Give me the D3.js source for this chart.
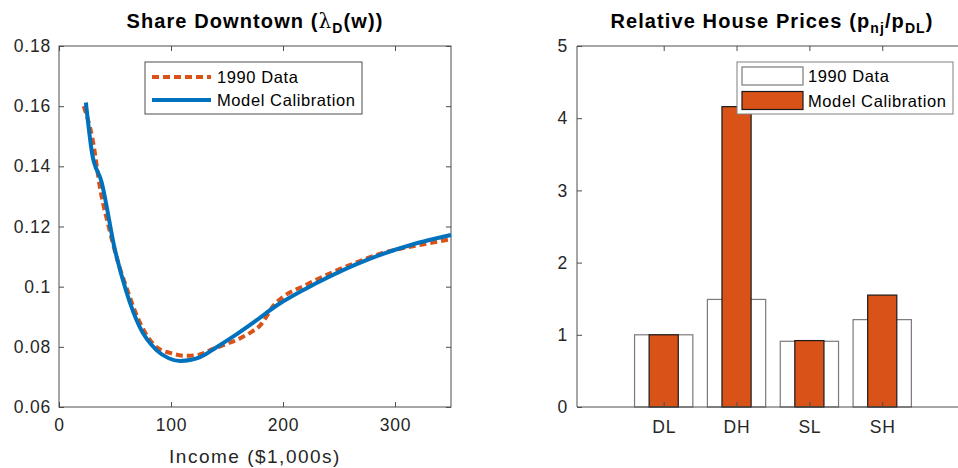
<!DOCTYPE html>
<html><head><meta charset="utf-8">
<script src="https://cdn.jsdelivr.net/npm/d3@7"></script>
<style>body{margin:0;background:#fff;} svg{display:block;font-family:"Liberation Sans",Arial,sans-serif;}</style>
</head><body>
<svg id="c" width="958" height="468"></svg>
<script>
// ---- Data: Share Downtown ----
const modelIncome = [24, 29.5, 38, 50, 60, 72, 87, 98, 108, 118, 126, 140, 155, 175, 195, 230, 275, 320, 350];
const modelShare  = [0.1612, 0.1444, 0.1348, 0.1122, 0.0985, 0.0866, 0.0789, 0.0762, 0.0753, 0.0757, 0.0766, 0.0797, 0.0833, 0.0885, 0.0939, 0.1012, 0.1089, 0.1145, 0.1172];
const dataIncome  = [22, 30, 37, 45, 52, 61, 70, 87, 99, 114, 125, 135, 150, 162, 172, 180, 186, 191, 200, 220, 245, 265, 289, 320, 350];
const dataShare   = [0.1600, 0.1490, 0.1320, 0.1190, 0.1090, 0.0989, 0.0899, 0.0799, 0.0780, 0.0770, 0.0774, 0.0789, 0.0810, 0.0829, 0.0850, 0.0873, 0.0905, 0.0935, 0.0966, 0.1005, 0.1049, 0.1080, 0.1112, 0.1137, 0.1158];
const leftXTicks = [0, 100, 200, 300];
const leftYTicks = [0.06, 0.08, 0.1, 0.12, 0.14, 0.16, 0.18];

// ---- Data: Relative house prices ----
const categories = ["DL", "DH", "SL", "SH"];
const priceData  = [1.0, 1.49, 0.91, 1.21];
const priceModel = [1.0, 4.16, 0.92, 1.55];
const rightYTicks = [0, 1, 2, 3, 4, 5];
const seriesNames = ["1990 Data", "Model Calibration"];

const BLUE = "#0072BD", ORANGE = "#D95319", AX = "#4d4d4d", TXT = "#262626";
const TICKFS = 17.5, TICKLS = 0.8;
const svg = d3.select("#c");

function styleTicks(a) {
  a.select(".domain").remove();
  a.selectAll("line").attr("stroke", AX);
  a.selectAll("text").attr("font-size", TICKFS).attr("letter-spacing", TICKLS)
    .attr("fill", TXT).attr("font-family", "Liberation Sans, Arial");
}
function plainTicks(a) { a.select(".domain").remove(); a.selectAll("line").attr("stroke", AX); }

// ---------- Left panel ----------
const L = {l: 59, r: 451, t: 46, b: 407};
const x1 = d3.scaleLinear().domain([0, 350]).range([L.l, L.r]);
const y1 = d3.scaleLinear().domain([0.06, 0.18]).range([L.b, L.t]);
const g1 = svg.append("g");

g1.append("rect").attr("x", L.l).attr("y", L.t).attr("width", L.r - L.l).attr("height", L.b - L.t)
  .attr("fill", "none").attr("stroke", AX).attr("stroke-width", 1);

g1.append("g").attr("transform", `translate(0,${L.b})`)
  .call(d3.axisBottom(x1).tickValues(leftXTicks).tickSize(-5).tickPadding(12).tickFormat(d3.format("d")))
  .call(styleTicks);
g1.append("g").attr("transform", `translate(0,${L.t})`)
  .call(d3.axisTop(x1).tickValues(leftXTicks).tickSize(-5).tickFormat("")).call(plainTicks);
g1.append("g").attr("transform", `translate(${L.l},0)`)
  .call(d3.axisLeft(y1).tickValues(leftYTicks).tickSize(-5).tickPadding(8).tickFormat(d => d === 0.1 ? "0.1" : d3.format(".2f")(d)))
  .call(styleTicks);
g1.append("g").attr("transform", `translate(${L.r},0)`)
  .call(d3.axisRight(y1).tickValues(leftYTicks).tickSize(-5).tickFormat("")).call(plainTicks);

const line = d3.line().x(d => x1(d[0])).y(d => y1(d[1])).curve(d3.curveMonotoneX);
const dataPts = dataIncome.map((v, i) => [v, dataShare[i]]);
const modelPts = modelIncome.map((v, i) => [v, modelShare[i]]);
g1.append("path").attr("d", line(dataPts)).attr("fill", "none").attr("stroke", ORANGE)
  .attr("stroke-width", 4).attr("stroke-dasharray", "7,4");
g1.append("path").attr("d", line(modelPts)).attr("fill", "none").attr("stroke", BLUE)
  .attr("stroke-width", 4);

// left legend
const lg = g1.append("g");
lg.append("rect").attr("x", 145).attr("y", 62).attr("width", 217).attr("height", 52)
  .attr("fill", "#fff").attr("stroke", AX).attr("stroke-width", 1);
lg.append("line").attr("x1", 152).attr("x2", 211).attr("y1", 77).attr("y2", 77)
  .attr("stroke", ORANGE).attr("stroke-width", 4).attr("stroke-dasharray", "7,4");
lg.append("line").attr("x1", 152).attr("x2", 211).attr("y1", 100).attr("y2", 100)
  .attr("stroke", BLUE).attr("stroke-width", 4);
lg.selectAll("text.lg").data(seriesNames).join("text").attr("class", "lg")
  .attr("x", 217).attr("y", (d, i) => 83 + i * 23).attr("font-size", 16.5).attr("letter-spacing", 0.6)
  .attr("fill", "#000").text(d => d);

// title
const t1 = g1.append("text").attr("x", (L.l + L.r) / 2).attr("y", 28).attr("text-anchor", "middle")
  .attr("font-size", 20).attr("letter-spacing", 1.1).attr("font-weight", "bold").attr("fill", "#000");
t1.append("tspan").text("Share Downtown (");
t1.append("tspan").attr("font-weight", "normal").attr("font-family", "DejaVu Serif, serif").text("λ");
t1.append("tspan").attr("font-size", 14).attr("dy", 5).text("D");
t1.append("tspan").attr("dy", -5).text("(w))");

// x label
g1.append("text").attr("x", (L.l + L.r) / 2).attr("y", 463).attr("text-anchor", "middle")
  .attr("font-size", 19).attr("letter-spacing", 1.5).attr("fill", TXT).text("Income ($1,000s)");

// ---------- Right panel ----------
const R = {l: 577, r: 958, t: 46, b: 407};
const x2 = d3.scaleLinear().domain([-0.19, 5.04]).range([R.l, R.r]);
const y2 = d3.scaleLinear().domain([0, 5]).range([R.b, R.t]);
const g2 = svg.append("g");

const catPos = categories.map((c, i) => i + 1);
g2.selectAll("rect.d").data(priceData).join("rect").attr("class", "d")
  .attr("x", (d, i) => x2(catPos[i] - 0.4)).attr("width", x2(0.8) - x2(0))
  .attr("y", d => y2(d)).attr("height", d => y2(0) - y2(d))
  .attr("fill", "#fff").attr("stroke", "#7a7a7a").attr("stroke-width", 1.2);
g2.selectAll("rect.m").data(priceModel).join("rect").attr("class", "m")
  .attr("x", (d, i) => x2(catPos[i] - 0.2)).attr("width", x2(0.4) - x2(0))
  .attr("y", d => y2(d)).attr("height", d => y2(0) - y2(d))
  .attr("fill", ORANGE).attr("stroke", "#1a1a1a").attr("stroke-width", 1.2);

g2.append("line").attr("x1", R.l).attr("x2", R.r).attr("y1", R.b).attr("y2", R.b).attr("stroke", AX);
g2.append("line").attr("x1", R.l).attr("x2", R.r).attr("y1", R.t).attr("y2", R.t).attr("stroke", AX);
g2.append("line").attr("x1", R.l).attr("x2", R.l).attr("y1", R.t).attr("y2", R.b).attr("stroke", AX);

g2.append("g").attr("transform", `translate(0,${R.b})`)
  .call(d3.axisBottom(x2).tickValues(catPos).tickSize(-5).tickPadding(14).tickFormat((d, i) => categories[i]))
  .call(styleTicks);
g2.append("g").attr("transform", `translate(0,${R.t})`)
  .call(d3.axisTop(x2).tickValues(catPos).tickSize(-5).tickFormat("")).call(plainTicks);
g2.append("g").attr("transform", `translate(${R.l},0)`)
  .call(d3.axisLeft(y2).tickValues(rightYTicks).tickSize(-5).tickPadding(9).tickFormat(d3.format("d")))
  .call(styleTicks);

// right legend
const rg = g2.append("g");
rg.append("rect").attr("x", 737).attr("y", 62).attr("width", 216).attr("height", 52)
  .attr("fill", "#fff").attr("stroke", "#808080").attr("stroke-width", 1);
rg.append("rect").attr("x", 742).attr("y", 67).attr("width", 61).attr("height", 18)
  .attr("fill", "#fff").attr("stroke", "#7a7a7a").attr("stroke-width", 1.2);
rg.append("rect").attr("x", 742).attr("y", 91.5).attr("width", 61).attr("height", 18)
  .attr("fill", ORANGE).attr("stroke", "#1a1a1a").attr("stroke-width", 1.2);
rg.selectAll("text.lg").data(seriesNames).join("text").attr("class", "lg")
  .attr("x", 808).attr("y", (d, i) => 82 + i * 25).attr("font-size", 16.5).attr("letter-spacing", 0.6)
  .attr("fill", "#000").text(d => d);

// right title
const t2 = g2.append("text").attr("x", 772).attr("y", 28).attr("text-anchor", "middle")
  .attr("font-size", 20).attr("letter-spacing", 1.1).attr("font-weight", "bold").attr("fill", "#000");
t2.append("tspan").text("Relative House Prices (p");
t2.append("tspan").attr("font-size", 14).attr("dy", 5).text("nj");
t2.append("tspan").attr("dy", -5).text("/p");
t2.append("tspan").attr("font-size", 14).attr("dy", 5).text("DL");
t2.append("tspan").attr("dy", -5).text(")");
</script>
</body></html>
